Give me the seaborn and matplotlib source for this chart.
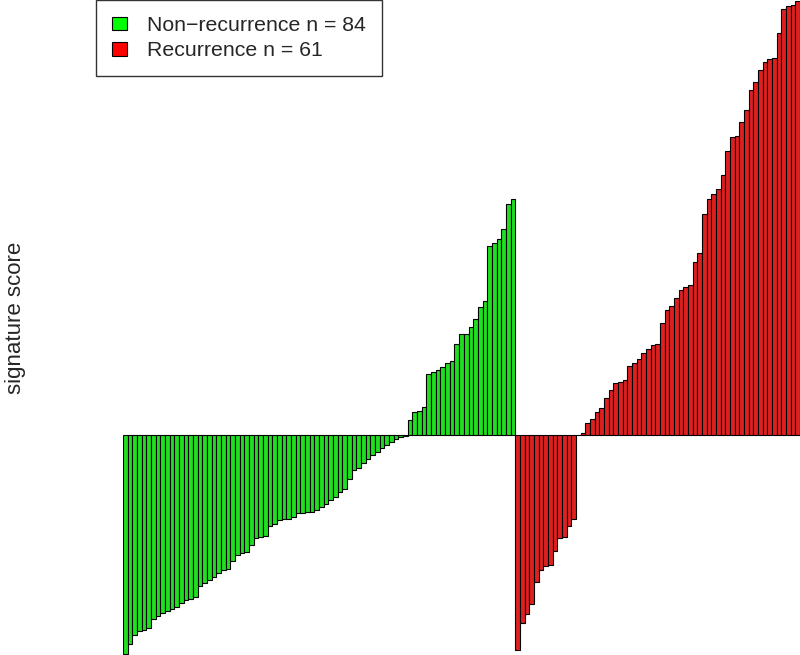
import pandas as pd
import seaborn as sns
import matplotlib.pyplot as plt
from matplotlib.patches import Patch

# signature scores, sorted within each group
nonrec_scores = [
    -2.19, -2.09, -2.00, -1.96, -1.95, -1.93, -1.84, -1.81, -1.78, -1.76,
    -1.74, -1.72, -1.68, -1.65, -1.64, -1.62, -1.51, -1.48, -1.45, -1.42,
    -1.38, -1.35, -1.34, -1.26, -1.20, -1.18, -1.17, -1.10, -1.03, -1.02,
    -1.01, -0.91, -0.89, -0.85, -0.84, -0.84, -0.82, -0.78, -0.78, -0.77,
    -0.77, -0.75, -0.72, -0.69, -0.65, -0.62, -0.57, -0.54, -0.44, -0.35,
    -0.33, -0.28, -0.24, -0.20, -0.17, -0.13, -0.10, -0.07, -0.04, -0.02,
    -0.01,
    0.15, 0.23, 0.24, 0.28, 0.61, 0.63, 0.65, 0.68, 0.72, 0.74,
    0.91, 1.01, 1.01, 1.08, 1.16, 1.28, 1.34, 1.89, 1.92, 1.96,
    2.06, 2.31, 2.36,
]
rec_scores = [
    -2.15, -1.88, -1.79, -1.69, -1.47, -1.35, -1.31, -1.30, -1.16, -1.03,
    -1.02, -0.91, -0.84, 0.00,
    0.02, 0.12, 0.16, 0.23, 0.27, 0.37, 0.45, 0.52, 0.53, 0.55,
    0.69, 0.72, 0.76, 0.82, 0.86, 0.90, 0.91, 1.12, 1.25, 1.29,
    1.37, 1.45, 1.48, 1.50, 1.73, 1.82, 2.21, 2.36, 2.41, 2.46,
    2.60, 2.84, 2.98, 2.99, 3.13, 3.25, 3.45, 3.53, 3.65, 3.73,
    3.76, 3.77, 4.02, 4.26, 4.29, 4.30, 4.34,
]
groups = ["Non\u2212recurrence", "Recurrence"]
colors = {"Non\u2212recurrence": "#00ff00", "Recurrence": "#ff0000"}

scores = nonrec_scores + rec_scores
labels = [groups[0]] * len(nonrec_scores) + [groups[1]] * len(rec_scores)
df = pd.DataFrame({"idx": range(len(scores)), "score": scores, "group": labels})

sns.set_style("white")
plt.rcParams["font.family"] = ["Liberation Sans", "DejaVu Sans"]

fig = plt.figure(figsize=(8, 6.55), dpi=100)
ax = fig.add_axes([123 / 800, 0, 677 / 800, 1])

sns.barplot(data=df, x="idx", y="score", hue="group", palette=colors,
            dodge=False, width=1, edgecolor="black", linewidth=0.8,
            legend=False, ax=ax)

ax.set_xlim(-0.5, len(scores) - 0.5)
ax.set_ylim(-2.20, 4.35)
ax.set_xticks([])
ax.set_yticks([])
ax.set_xlabel("")
ax.set_ylabel("")
for s in ax.spines.values():
    s.set_visible(False)

fig.text(16 / 800, 1 - 318 / 655, "signature score", rotation=90,
         ha="center", va="center", fontsize=16)

handles = [Patch(facecolor=colors[g], edgecolor="black", linewidth=0.8) for g in groups]
leg_labels = [f"{groups[0]} n = {len(nonrec_scores)}",
              f"{groups[1]} n = {len(rec_scores)}"]
leg = fig.legend(handles, leg_labels, loc="upper left",
                 bbox_to_anchor=(96 / 800, 1.0), fontsize=15.3,
                 frameon=True, fancybox=False, borderaxespad=0,
                 handlelength=0.7, handleheight=0.6, handletextpad=0.95,
                 borderpad=0.75, labelspacing=0.3)
leg.get_frame().set_edgecolor("black")
leg.get_frame().set_linewidth(1.0)

fig.savefig("out.png", dpi=100)
